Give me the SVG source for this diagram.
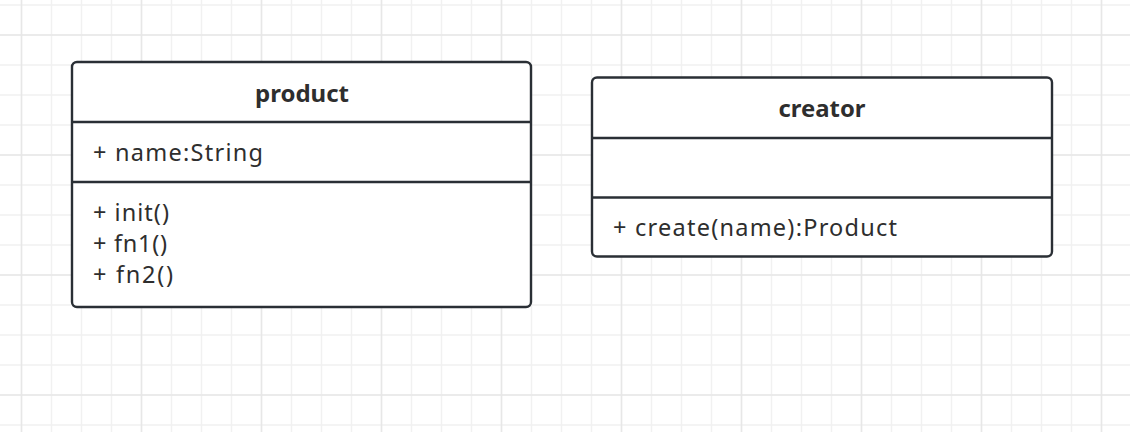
<svg xmlns="http://www.w3.org/2000/svg" width="1130" height="432" viewBox="0 0 1130 432">
<style>
.grid-thin{fill:none;stroke:#f1f1f1;stroke-width:1.5}
.grid-thick{fill:none;stroke:#e7e7e7;stroke-width:1.5}
.box{fill:#ffffff;stroke:#2a2f35;stroke-width:2.4}
.div{stroke:#2a2f35;stroke-width:2.4}
.title{font-family:"Noto Sans","Open Sans","Liberation Sans",sans-serif;font-size:23px;font-weight:700;fill:#2e2e2e;text-anchor:middle}
.member{font-family:"Noto Sans","Open Sans","Liberation Sans",sans-serif;font-size:23.5px;font-weight:400;fill:#2e2e2e}
</style>
<rect x="0" y="0" width="1130" height="432" fill="#ffffff"/>
<g id="grid">
<path class="grid-thin" d="M21.5 0V432M51.5 0V432M81.5 0V432M111.5 0V432M141.5 0V432M171.5 0V432M201.5 0V432M231.5 0V432M261.5 0V432M291.5 0V432M321.5 0V432M351.5 0V432M381.5 0V432M411.5 0V432M441.5 0V432M471.5 0V432M501.5 0V432M531.5 0V432M561.5 0V432M591.5 0V432M621.5 0V432M651.5 0V432M681.5 0V432M711.5 0V432M741.5 0V432M771.5 0V432M801.5 0V432M831.5 0V432M861.5 0V432M891.5 0V432M921.5 0V432M951.5 0V432M981.5 0V432M1011.5 0V432M1041.5 0V432M1071.5 0V432M1101.5 0V432M0 5H1130M0 35H1130M0 65H1130M0 95H1130M0 125H1130M0 155H1130M0 185H1130M0 215H1130M0 245H1130M0 275H1130M0 305H1130M0 335H1130M0 365H1130M0 395H1130M0 425H1130"/>
<path class="grid-thick" d="M21.5 0V432M141.5 0V432M261.5 0V432M381.5 0V432M501.5 0V432M621.5 0V432M741.5 0V432M861.5 0V432M981.5 0V432M1101.5 0V432M0 35H1130M0 155H1130M0 275H1130M0 395H1130"/>
</g>
<g id="connectors"></g>
<g id="product">
<rect class="box" x="72" y="62" width="459" height="245" rx="5" ry="5"/>
<line class="div" x1="72" y1="122" x2="531" y2="122"/>
<line class="div" x1="72" y1="182" x2="531" y2="182"/>
<text class="title" x="302" y="101.5" textLength="94" lengthAdjust="spacingAndGlyphs">product</text>
<text class="member" x="93" y="160.7" textLength="170" lengthAdjust="spacing">+ name:String</text>
<text class="member" x="93" y="221" textLength="76" lengthAdjust="spacing">+ init()</text>
<text class="member" x="93" y="252" textLength="74" lengthAdjust="spacing">+ fn1()</text>
<text class="member" x="93" y="283" textLength="80" lengthAdjust="spacing">+ fn2()</text>
</g>
<g id="creator">
<rect class="box" x="592" y="77.5" width="460" height="179" rx="5" ry="5"/>
<line class="div" x1="592" y1="138" x2="1052" y2="138"/>
<line class="div" x1="592" y1="197.5" x2="1052" y2="197.5"/>
<text class="title" x="822" y="117" textLength="87" lengthAdjust="spacingAndGlyphs">creator</text>
<text class="member" x="613" y="236" textLength="284" lengthAdjust="spacing">+ create(name):Product</text>
</g>
</svg>
